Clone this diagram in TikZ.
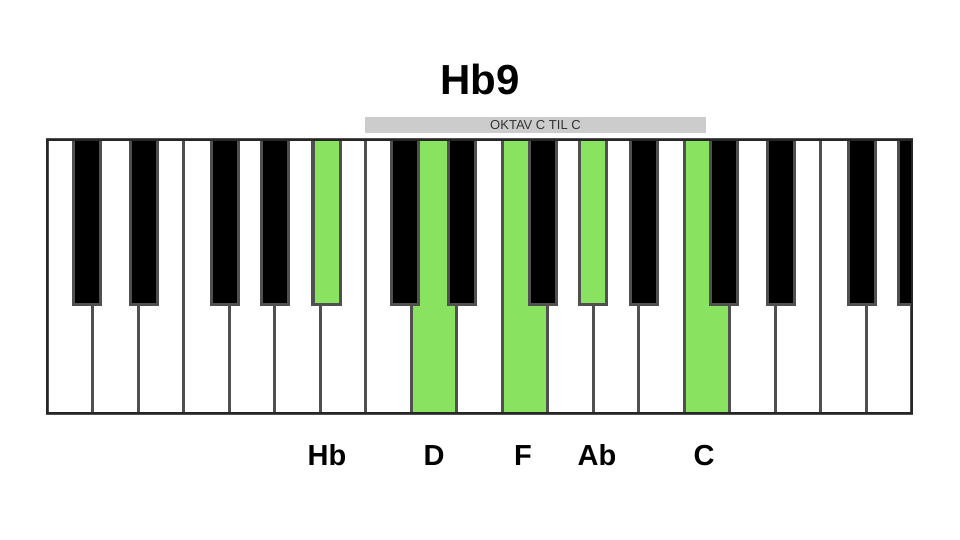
\documentclass[tikz,border=0pt]{standalone}
\usepackage{fontspec}
\setmainfont{Liberation Sans}
\usetikzlibrary{positioning}
\definecolor{keygreen}{RGB}{137,226,96}
\definecolor{keyline}{RGB}{80,80,80}
\definecolor{barfill}{RGB}{204,204,204}

\begin{document}
\begin{tikzpicture}[x=1pt, y=-1pt,
  whitekey/.style={draw=keyline, line width=3pt, fill=white},
  blackkey/.style={draw=keyline, line width=3pt, fill=black},
  note/.style={font=\bfseries\fontsize{29}{30}\selectfont, anchor=base, inner sep=0pt}]
  \useasboundingbox (0,0) rectangle (960,540);
  % title and octave bar
  \node[font=\bfseries\fontsize{42}{44}\selectfont, inner sep=0pt] (title) at (480,79) {Hb9};
  \node[fill=barfill, minimum width=341pt, minimum height=16pt, inner sep=0pt,
        font=\fontsize{13}{14}\selectfont, text=black!80] (octave) at (535.5,125) {OKTAV C TIL C};
  % white keys
  \foreach \i in {0,...,18}
    \draw[whitekey] ({47+45.5*\i},140) rectangle ++(45.5,273);
  \foreach \i in {8,10,14}
    \draw[whitekey, fill=keygreen] ({47+45.5*\i},140) rectangle ++(45.5,273);
  % black keys
  \begin{scope}
    \clip (47,130) rectangle (912,420);
    \foreach \o in {0,1,2}
      \foreach \d in {26,83,164,214,265}
        \draw[blackkey] ({47+318.5*\o+\d},140) rectangle ++(27,164);
    \draw[blackkey, fill=keygreen] (313,140) rectangle ++(27,164);
    \draw[blackkey, fill=keygreen] (579.5,140) rectangle ++(27,164);
  \end{scope}
  \draw[line width=2.5pt, black!85] (47,140) rectangle (912,413);
  % chord tones
  \node[note] (hb) at (327,465) {Hb};
  \node[note] (d) at (434,465) {D};
  \node[note] (f) at (523,465) {F};
  \node[note] (ab) at (597,465) {Ab};
  \node[note] (c) at (704,465) {C};
\end{tikzpicture}
\end{document}
